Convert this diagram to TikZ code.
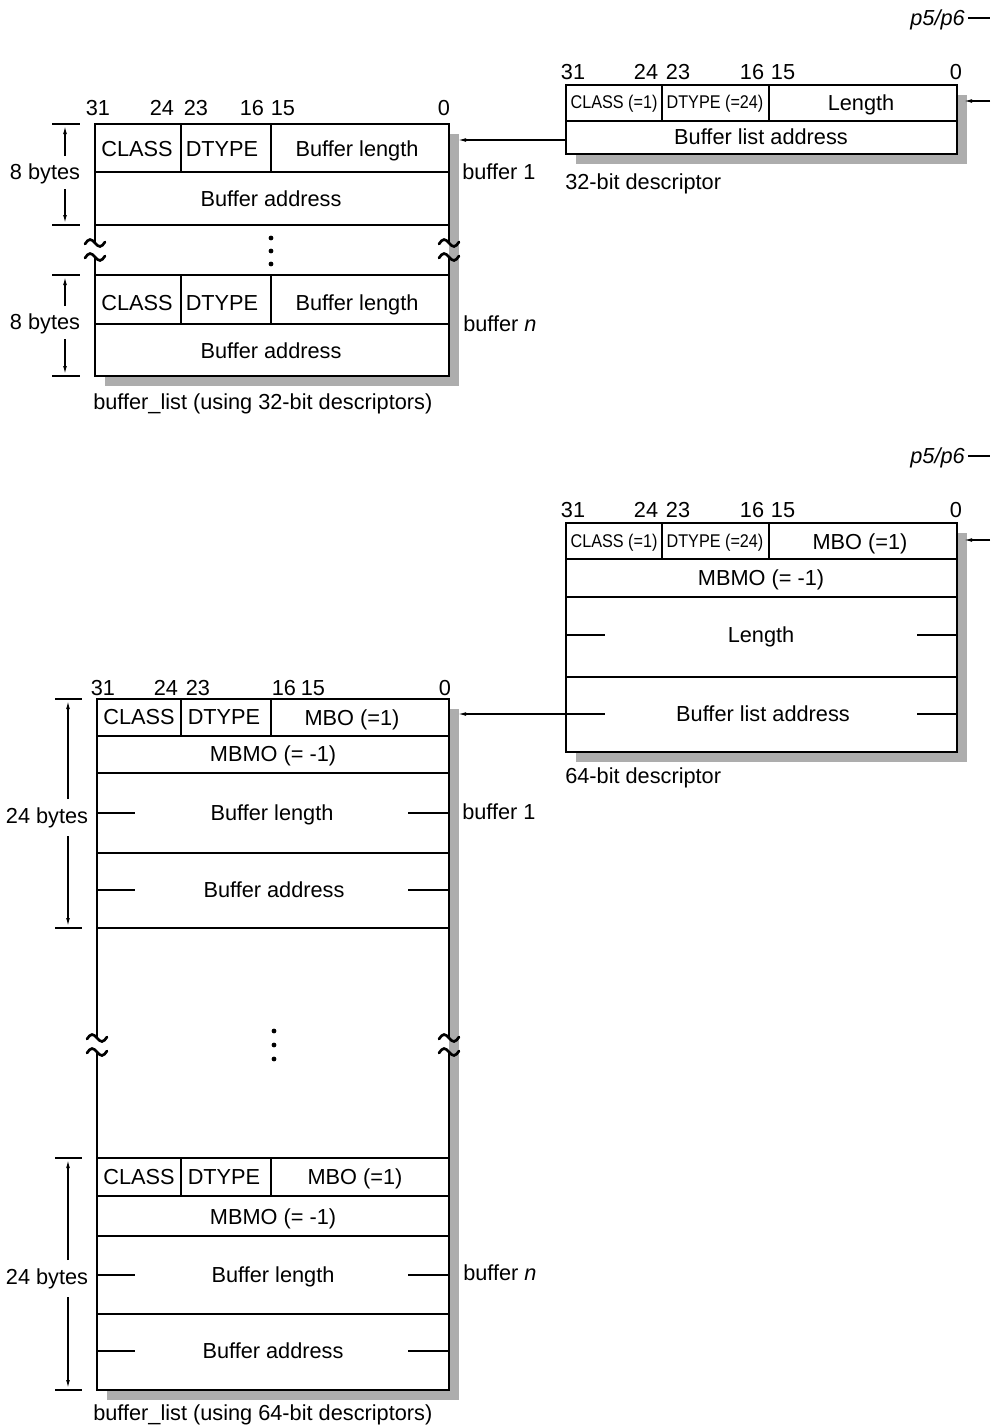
\documentclass[tikz,border=0pt]{standalone}
\usepackage{fontspec}
\setmainfont{Liberation Sans}
\usepackage{graphicx}
\usetikzlibrary{arrows.meta}
\tikzset{
  txt/.style={inner sep=0pt, font=\fontsize{16.3}{19}\selectfont, text height=13.5pt, text depth=3pt},
  sml/.style={inner sep=0pt, font=\fontsize{13.8}{16}\selectfont, text height=11pt, text depth=3pt},
  outline/.style={line width=1.6pt},
  cellline/.style={line width=1.1pt},
  shade/.style={fill=black!32},
  conn/.style={line width=0.9pt},
  arr/.style={conn, -{Latex[length=6pt,width=2.8pt]}},
  dimarr/.style={line width=0.9pt, -{Latex[length=6pt,width=2.8pt]}},
  brk/.style={line width=2pt, line cap=round},
  dotmark/.style={fill=black}
}
\newcommand\tildemark[2]{\draw[brk,shift={(#1,#2)}] (-10,1) sin (-5,-3.5) cos (0,0) sin (5,3.5) cos (10,-1);}
\newcommand\sqz[1]{\scalebox{0.88}[1]{#1}}
\begin{document}
\begin{tikzpicture}[x=0.75pt,y=-0.75pt]
\useasboundingbox (0,0) rectangle (990,1425);

% ===================== top right: 32-bit descriptor =====================
\node[txt, anchor=east, font=\fontsize{16.3}{19}\selectfont\itshape] (p1) at (965,18) {p5/p6};
\coordinate (p1r) at (990,18);
\draw[conn] (p1.east) ++(3,0) -- (p1r);

\fill[shade] (576,95) rectangle (967,164);
\fill[white] (566,85) rectangle (957,154);
\draw[cellline] (566,121) -- (957,121);
\draw[cellline] (662,85) -- (662,121) (769,85) -- (769,121);
\draw[outline] (566,85) rectangle (957,154);

\node[txt] (d1b31) at (573,72) {31};
\node[txt] (d1b24) at (646,72) {24};
\node[txt] (d1b23) at (678,72) {23};
\node[txt] (d1b16) at (752,72) {16};
\node[txt] (d1b15) at (783,72) {15};
\node[txt] (d1b0)  at (956,72) {0};

\node[sml] (d1c) at (614,103) {\sqz{CLASS (=1)}};
\node[sml] (d1d) at (715,103) {\sqz{DTYPE (=24)}};
\node[txt] (d1l) at (861,103) {Length};
\node[txt] (d1a) at (761,137) {Buffer list address};
\node[txt, anchor=west] (d1cap) at (565,182) {32-bit descriptor};

\coordinate (in1) at (990,101);
\coordinate (d1e) at (964,101);
\draw[arr] (in1) -- (d1e);

% ===================== top left: buffer list (32-bit) =====================
\fill[shade] (105,134) rectangle (459,386);
\fill[white] (95,124) rectangle (449,376);
\draw[cellline] (95,172) -- (449,172) (95,225) -- (449,225)
                (95,275) -- (449,275) (95,324) -- (449,324);
\draw[cellline] (181,124) -- (181,172) (271,124) -- (271,172)
                (181,275) -- (181,324) (271,275) -- (271,324);
\draw[outline] (95,243) -- (95,124) -- (449,124) -- (449,243);
\draw[outline] (95,257) -- (95,376) -- (449,376) -- (449,257);
\tildemark{95}{243}\tildemark{95}{257}
\tildemark{449}{243}\tildemark{449}{257}
\fill[dotmark] (271,238) circle[radius=1.8pt] (271,251) circle[radius=1.8pt] (271,264) circle[radius=1.8pt];

\node[txt] (l1b31) at (98,108) {31};
\node[txt] (l1b24) at (162,108) {24};
\node[txt] (l1b23) at (196,108) {23};
\node[txt] (l1b16) at (252,108) {16};
\node[txt] (l1b15) at (283,108) {15};
\node[txt] (l1b0)  at (444,108) {0};

\node[txt] (l1c1) at (137,149) {CLASS};
\node[txt] (l1d1) at (222,149) {DTYPE};
\node[txt] (l1l1) at (357,149) {Buffer length};
\node[txt] (l1a1) at (271,199) {Buffer address};
\node[txt] (l1cn) at (137,303) {CLASS};
\node[txt] (l1dn) at (222,303) {DTYPE};
\node[txt] (l1ln) at (357,303) {Buffer length};
\node[txt] (l1an) at (271,351) {Buffer address};

\node[txt, anchor=west] (l1buf1) at (462,172) {buffer 1};
\node[txt, anchor=west] (l1bufn) at (463,324) {buffer \textit{n}};
\node[txt, anchor=west] (l1cap) at (93,402) {buffer\_list (using 32-bit descriptors)};

% dimension 8 bytes
\draw[conn] (52,124) -- (80,124) (52,225) -- (80,225) (52,275) -- (80,275) (52,376) -- (80,376);
\node[txt] (l1dim1) at (45,172) {8 bytes};
\node[txt] (l1dim2) at (45,322) {8 bytes};
\coordinate (l1u1s) at (65,156); \coordinate (l1u1e) at (65,126);
\coordinate (l1d1s) at (65,189); \coordinate (l1d1e) at (65,223);
\coordinate (l1u2s) at (65,306); \coordinate (l1u2e) at (65,277);
\coordinate (l1d2s) at (65,339); \coordinate (l1d2e) at (65,374);
\draw[dimarr] (l1u1s) -- (l1u1e);
\draw[dimarr] (l1d1s) -- (l1d1e);
\draw[dimarr] (l1u2s) -- (l1u2e);
\draw[dimarr] (l1d2s) -- (l1d2e);

% connector from descriptor to buffer list
\coordinate (d1w) at (566,140);
\coordinate (l1e) at (458,140);
\draw[arr] (d1w) -- (l1e);

% ===================== middle right: 64-bit descriptor =====================
\node[txt, anchor=east, font=\fontsize{16.3}{19}\selectfont\itshape] (p2) at (965,456) {p5/p6};
\coordinate (p2r) at (990,456);
\draw[conn] (p2.east) ++(3,0) -- (p2r);

\fill[shade] (576,533) rectangle (967,762);
\fill[white] (566,523) rectangle (957,752);
\draw[cellline] (566,559) -- (957,559) (566,597) -- (957,597) (566,677) -- (957,677);
\draw[cellline] (662,523) -- (662,559) (769,523) -- (769,559);
\draw[cellline] (566,635) -- (605,635) (917,635) -- (957,635)
                (566,714) -- (605,714) (917,714) -- (957,714);
\draw[outline] (566,523) rectangle (957,752);

\node[txt] (d2b31) at (573,510) {31};
\node[txt] (d2b24) at (646,510) {24};
\node[txt] (d2b23) at (678,510) {23};
\node[txt] (d2b16) at (752,510) {16};
\node[txt] (d2b15) at (783,510) {15};
\node[txt] (d2b0)  at (956,510) {0};

\node[sml] (d2c) at (614,542) {\sqz{CLASS (=1)}};
\node[sml] (d2d) at (715,542) {\sqz{DTYPE (=24)}};
\node[txt] (d2m) at (860,542) {MBO (=1)};
\node[txt] (d2mm) at (761,578) {MBMO (= -1)};
\node[txt] (d2l) at (761,635) {Length};
\node[txt] (d2a) at (763,714) {Buffer list address};
\node[txt, anchor=west] (d2cap) at (565,776) {64-bit descriptor};

\coordinate (in2) at (990,540);
\coordinate (d2e) at (964,540);
\draw[arr] (in2) -- (d2e);

% ===================== bottom left: buffer list (64-bit) =====================
\fill[shade] (107,709) rectangle (459,1400);
\fill[white] (97,699) rectangle (449,1390);
\draw[cellline] (97,736) -- (449,736) (97,773) -- (449,773) (97,853) -- (449,853) (97,928) -- (449,928)
                (97,1158) -- (449,1158) (97,1196) -- (449,1196) (97,1236) -- (449,1236) (97,1314) -- (449,1314);
\draw[cellline] (181,699) -- (181,736) (271,699) -- (271,736)
                (181,1158) -- (181,1196) (271,1158) -- (271,1196);
\draw[cellline] (97,813) -- (135,813) (408,813) -- (449,813)
                (97,890) -- (135,890) (408,890) -- (449,890)
                (97,1275) -- (135,1275) (408,1275) -- (449,1275)
                (97,1351) -- (135,1351) (408,1351) -- (449,1351);
\draw[outline] (97,1038) -- (97,699) -- (449,699) -- (449,1038);
\draw[outline] (97,1052) -- (97,1390) -- (449,1390) -- (449,1052);
\tildemark{97}{1038}\tildemark{97}{1052}
\tildemark{449}{1038}\tildemark{449}{1052}
\fill[dotmark] (274,1031) circle[radius=1.8pt] (274,1045) circle[radius=1.8pt] (274,1059) circle[radius=1.8pt];

\node[txt] (l2b31) at (103,688) {31};
\node[txt] (l2b24) at (166,688) {24};
\node[txt] (l2b23) at (198,688) {23};
\node[txt] (l2b16) at (284,688) {16};
\node[txt] (l2b15) at (313,688) {15};
\node[txt] (l2b0)  at (445,688) {0};

\node[txt] (l2c1) at (139,717) {CLASS};
\node[txt] (l2d1) at (224,717) {DTYPE};
\node[txt] (l2m1) at (352,718) {MBO (=1)};
\node[txt] (l2mm1) at (273,754) {MBMO (= -1)};
\node[txt] (l2l1) at (272,813) {Buffer length};
\node[txt] (l2a1) at (274,890) {Buffer address};
\node[txt] (l2cn) at (139,1177) {CLASS};
\node[txt] (l2dn) at (224,1177) {DTYPE};
\node[txt] (l2mn) at (355,1177) {MBO (=1)};
\node[txt] (l2mmn) at (273,1217) {MBMO (= -1)};
\node[txt] (l2ln) at (273,1275) {Buffer length};
\node[txt] (l2an) at (273,1351) {Buffer address};

\node[txt, anchor=west] (l2buf1) at (462,812) {buffer 1};
\node[txt, anchor=west] (l2bufn) at (463,1273) {buffer \textit{n}};
\node[txt, anchor=west] (l2cap) at (93,1413) {buffer\_list (using 64-bit descriptors)};

% dimension 24 bytes
\draw[conn] (55,699) -- (82,699) (55,928) -- (82,928) (55,1158) -- (82,1158) (55,1390) -- (82,1390);
\node[txt] (l2dim1) at (47,816) {24 bytes};
\node[txt] (l2dim2) at (47,1277) {24 bytes};
\coordinate (l2u1s) at (68,799); \coordinate (l2u1e) at (68,701);
\coordinate (l2d1s) at (68,836); \coordinate (l2d1e) at (68,926);
\coordinate (l2u2s) at (68,1260); \coordinate (l2u2e) at (68,1160);
\coordinate (l2d2s) at (68,1297); \coordinate (l2d2e) at (68,1388);
\draw[dimarr] (l2u1s) -- (l2u1e);
\draw[dimarr] (l2d1s) -- (l2d1e);
\draw[dimarr] (l2u2s) -- (l2u2e);
\draw[dimarr] (l2d2s) -- (l2d2e);

% connector from 64-bit descriptor to buffer list
\coordinate (d2w) at (566,714);
\coordinate (l2e) at (458,714);
\draw[arr] (d2w) -- (l2e);
\end{tikzpicture}
\end{document}
